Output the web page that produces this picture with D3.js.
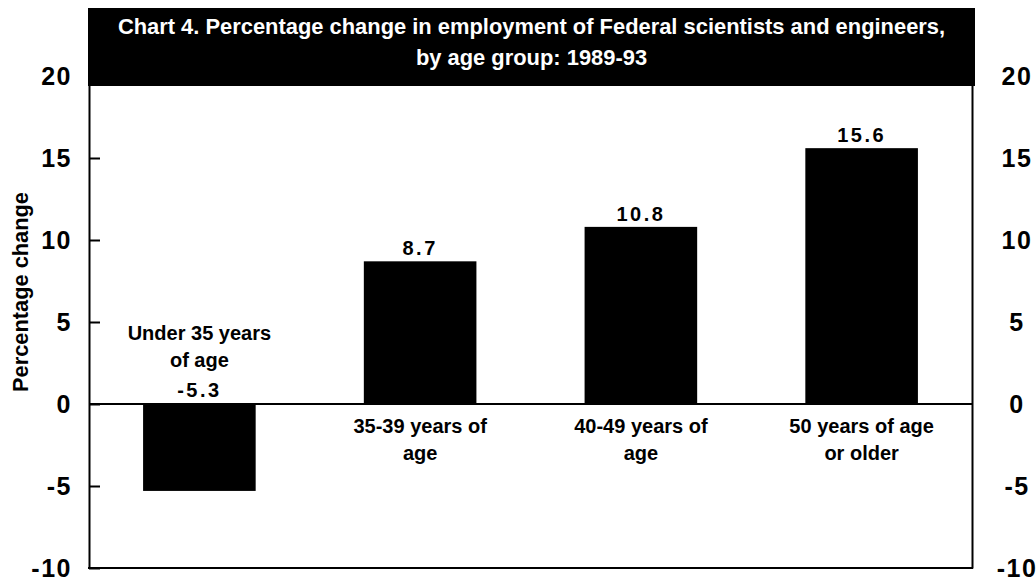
<!DOCTYPE html>
<html>
<head>
<meta charset="utf-8">
<script src="https://d3js.org/d3.v7.min.js"></script>
<style>
  body { margin: 0; background: white; }
  svg text { font-family: "Liberation Sans", Arial, sans-serif; font-weight: bold; fill: black; }
</style>
</head>
<body>
<script>
// data
var categories = ["Under 35 years of age", "35-39 years of age", "40-49 years of age", "50 years of age or older"];
var labelLines = [["Under 35 years", "of age"], ["35-39 years of", "age"], ["40-49 years of", "age"], ["50 years of age", "or older"]];
var values = [-5.3, 8.7, 10.8, 15.6];
var yTicks = [-10, -5, 0, 5, 10, 15, 20];
var titleLines = ["Chart 4. Percentage change in employment of Federal scientists and engineers,", "by age group: 1989-93"];
var yLabel = "Percentage change";

var width = 1036,
    height = 580;

// plot frame (window.top is taken, so no plain "top" here)
var plotLeft = 89, plotRight = 972, plotTop = 76, plotBottom = 568;

var svg = d3.select("body").append("svg")
    .attr("width", width)
    .attr("height", height);

var x = d3.scaleBand()
    .domain(categories)
    .range([plotLeft, plotRight])
    .paddingInner(0.49)
    .paddingOuter(0.245);

var y = d3.scaleLinear()
    .domain([-10, 20])
    .range([plotBottom, plotTop]);

// plain hyphen for negatives, like the original
var fmt = function(d) { return String(d); };

// bars
svg.append("g")
  .selectAll("rect")
  .data(values)
  .enter().append("rect")
    .attr("x", function(d, i) { return x(categories[i]); })
    .attr("width", x.bandwidth())
    .attr("y", function(d) { return y(Math.max(0, d)); })
    .attr("height", function(d) { return Math.abs(y(d) - y(0)); })
    .style("fill", "black");

// left axis, ticks point inward
var yAxis = d3.axisLeft(y)
    .tickValues(yTicks)
    .tickFormat(fmt)
    .tickSizeInner(-11)
    .tickSizeOuter(0)
    .tickPadding(17);

var gy = svg.append("g")
    .attr("transform", "translate(" + plotLeft + ",0)")
    .call(yAxis);
gy.selectAll("path, line").style("stroke", "black").style("stroke-width", 2);
gy.selectAll("text")
    .style("font-size", "25px")
    .style("letter-spacing", "1.5px")
    .attr("font-family", null);

// right axis, labels only
var yAxisR = d3.axisRight(y)
    .tickValues(yTicks)
    .tickFormat(fmt)
    .tickSize(0)
    .tickSizeOuter(0)
    .tickPadding(45);

var gr = svg.append("g")
    .attr("transform", "translate(" + plotRight + ",0)")
    .call(yAxisR);
gr.selectAll("path").style("stroke", "black").style("stroke-width", 2);
gr.selectAll("line").remove();
gr.selectAll("text")
    .style("font-size", "25px")
    .style("letter-spacing", "1.5px")
    .attr("text-anchor", "middle")
    .attr("font-family", null);

// zero line and bottom frame
svg.append("line")
    .attr("x1", plotLeft).attr("x2", plotRight)
    .attr("y1", y(0)).attr("y2", y(0))
    .style("stroke", "black").style("stroke-width", 2);
svg.append("line")
    .attr("x1", plotLeft - 1).attr("x2", plotRight + 1)
    .attr("y1", y(-10)).attr("y2", y(-10))
    .style("stroke", "black").style("stroke-width", 2);

// value labels
svg.append("g")
  .selectAll("text")
  .data(values)
  .enter().append("text")
    .attr("x", function(d, i) { return x(categories[i]) + x.bandwidth() / 2; })
    .attr("y", function(d) { return d < 0 ? y(0) - 7 : y(d) - 6; })
    .attr("text-anchor", "middle")
    .style("font-size", "20px")
    .style("letter-spacing", "2.5px")
    .text(function(d) { return d.toFixed(1); });

// category labels: above the zero line for the negative bar, below for the rest
var cat = svg.append("g")
  .selectAll("text")
  .data(values)
  .enter().append("text")
    .attr("text-anchor", "middle")
    .style("font-size", "20px")
    .attr("transform", function(d, i) {
        var cx = x(categories[i]) + x.bandwidth() / 2;
        var cy = d < 0 ? y(0) - 64 : y(0) + 29;
        return "translate(" + cx + "," + cy + ")";
    });

cat.selectAll("tspan")
  .data(function(d, i) { return labelLines[i]; })
  .enter().append("tspan")
    .attr("x", 0)
    .attr("y", function(d, j) { return j * 26.5; })
    .text(function(d) { return d; });

// y axis title
svg.append("text")
    .attr("transform", "translate(28," + 292 + ") rotate(-90)")
    .attr("text-anchor", "middle")
    .style("font-size", "21.8px")
    .text(yLabel);

// title box
svg.append("rect")
    .attr("x", 88)
    .attr("y", 8)
    .attr("width", 975 - 88)
    .attr("height", 86 - 8)
    .style("fill", "black");

svg.append("g")
  .selectAll("text")
  .data(titleLines)
  .enter().append("text")
    .attr("x", (88 + 975) / 2)
    .attr("y", function(d, i) { return 34 + i * 31; })
    .attr("text-anchor", "middle")
    .style("font-size", "21.9px")
    .style("fill", "white")
    .text(function(d) { return d; });
</script>
</body>
</html>
